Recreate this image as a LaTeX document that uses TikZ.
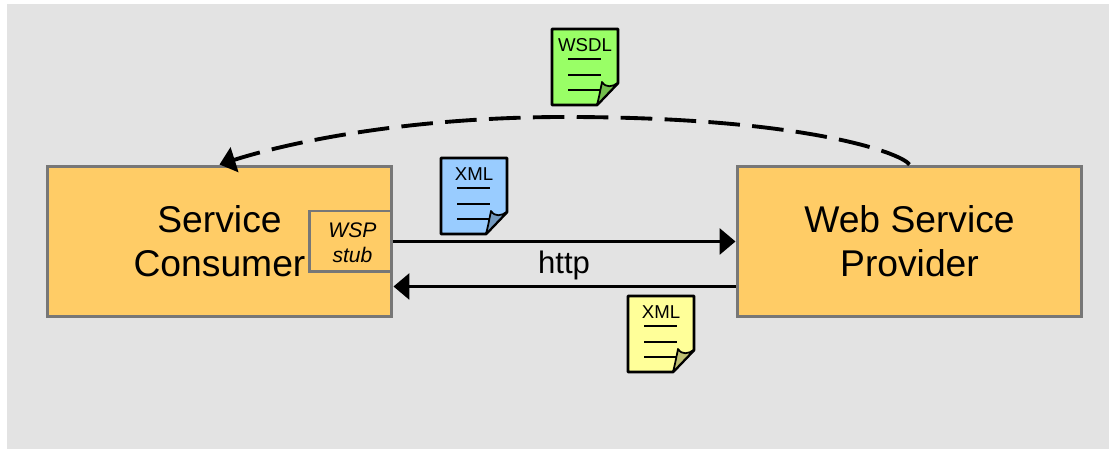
\documentclass[tikz,border=0pt]{standalone}
\usepackage{fontspec}
\setmainfont{Liberation Sans}
\usetikzlibrary{arrows.meta}
\definecolor{panelgray}{HTML}{E3E3E3}
\definecolor{boxorange}{HTML}{FFCC66}
\definecolor{boxedge}{HTML}{777777}
\definecolor{docgreen}{HTML}{99FF66}
\definecolor{docblue}{HTML}{99CCFF}
\definecolor{docyellow}{HTML}{FFFF99}
\tikzset{
  party/.style={draw=boxedge, fill=boxorange, line width=1.7pt, minimum width=6.9cm, minimum height=3.02cm, inner sep=0pt, align=center, font=\fontsize{21.2}{25}\selectfont},
  stubbox/.style={draw=boxedge, fill=boxorange, line width=1.7pt, minimum width=1.64cm, minimum height=1.22cm},
  stubtext/.style={inner sep=0pt, align=center, font=\fontsize{12}{14}\selectfont\itshape},
  link/.style={line width=2.2pt, -{Triangle[length=9pt,width=14.5pt]}},
  docline/.style={line width=1.6pt}
}
\begin{document}
\begin{tikzpicture}[x=0.02cm,y=0.02cm]
\useasboundingbox (0,0) rectangle (1109,449);

% Background
\fill[panelgray] (7,0) rectangle (1109,445);

% Boxes
\node[party] (consumer) at (219.5,207.5) {Service\\Consumer};
\node[party] (provider) at (909.5,207.5) {Web Service\\Provider};
\node[stubbox, anchor=east] (stub) at (consumer.east) {};
\node[stubtext] (stublabel) at (352.5,206) {WSP\\stub};

% Arrows between the boxes
\draw[link] (consumer.east) -- (provider.west);
\draw[link] ([yshift=-0.9cm]provider.west) -- ([yshift=-0.9cm]consumer.east);
\node[font=\fontsize{17.7}{20}\selectfont] (http) at (564,184) {http};

% Dashed arc
\draw[line width=2.2pt, dash pattern=on 18pt off 7pt, -{Triangle[length=9pt,width=14.5pt]}] (provider.north) .. controls (900,297) and (800,332) .. (565,332) .. controls (420,332) and (300,310) .. (consumer.north);

% Documents
\foreach \name/\x/\y/\col/\txt in {wsdl/552/420/docgreen/WSDL, request/441/291/docblue/XML, response/628/153/docyellow/XML} {
  \begin{scope}[shift={(\x,\y)}]
    \draw[line width=1.6pt, fill=\col, line join=round] (0,0) -- (66,0) -- (66,-54) -- (45,-76) -- (0,-76) -- cycle;
    \node[font=\fontsize{10.6}{12}\selectfont] (\name) at (33,-16.5) {\txt};
    \foreach \ly in {-30,-46,-61} {
      \draw[docline] (16,\ly) -- (49,\ly); % text rows
    }
    \draw[line width=1pt, fill=\col!75!black, line join=round] (45,-76) .. controls (47,-68) .. (50,-53) .. controls (54,-59) and (60,-58) .. (66,-54) -- cycle; % folded corner
  \end{scope}
}
\end{tikzpicture}
\end{document}
